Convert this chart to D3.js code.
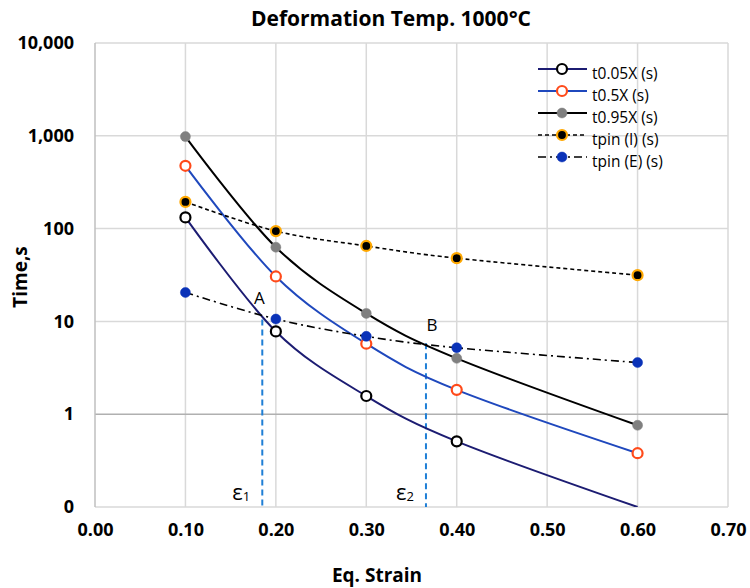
<!DOCTYPE html>
<html>
<head>
<meta charset="utf-8">
<script src="https://cdn.jsdelivr.net/npm/d3@7"></script>
<style>
    body { margin: 0; background: #fff; }
    text { font-family: "Open Sans", "Noto Sans", sans-serif; fill: #000; }
</style>
</head>
<body>
<script>
// strain values
const strain = [0.1, 0.2, 0.3, 0.4, 0.6];

const t005 = [132, 7.8, 1.57, 0.51, 0.1];
const t05 = [475, 30.5, 5.75, 1.83, 0.38];
const t095 = [980, 63, 12.2, 4.0, 0.76];
const tpinI = [194, 94, 65, 48, 31.5];
const tpinE = [20.5, 10.6, 6.9, 5.2, 3.6];

const xTicks = [0, 0.1, 0.2, 0.3, 0.4, 0.5, 0.6, 0.7];
const yTicks = [0.1, 1, 10, 100, 1000, 10000];

// points A / B where tpin(E) crosses t0.05X and t0.95X
const marks = [
    { label: "A", sub: "1", x: 0.185, y: 10.5 },
    { label: "B", sub: "2", x: 0.366, y: 5.8 }
];

const series = [
    { name: "t0.05X (s)", values: t005, line: "#1c1c72", dash: null, fill: "#fff", stroke: "#000" },
    { name: "t0.5X (s)", values: t05, line: "#1f48bd", dash: null, fill: "#fff", stroke: "#ff4a1a" },
    { name: "t0.95X (s)", values: t095, line: "#000", dash: null, fill: "#808080", stroke: "#808080" },
    { name: "tpin (I) (s)", values: tpinI, line: "#000", dash: "4,3", fill: "#000", stroke: "#ffa800" },
    { name: "tpin (E) (s)", values: tpinE, line: "#000", dash: "8,4,2,4", fill: "#0a32b8", stroke: "#0a32b8" }
];

function render() {
    const svg = d3.select("body").append("svg")
        .attr("width", 750)
        .attr("height", 588);

    const x = d3.scaleLinear().domain([0, 0.7]).range([95, 728]);
    const y = d3.scaleLog().domain([0.1, 10000]).range([507, 43]);

    svg.append("defs").append("clipPath")
        .attr("id", "plot")
        .append("rect")
        .attr("x", x(0)).attr("y", y(10000))
        .attr("width", x(0.7) - x(0)).attr("height", y(0.1) - y(10000));

    // grid
    svg.append("g")
        .selectAll("line")
        .data(xTicks.slice(1))
        .enter()
        .append("line")
        .attr("x1", d => x(d)).attr("x2", d => x(d))
        .attr("y1", y(10000)).attr("y2", y(0.1))
        .attr("stroke", "#d9d9d9").attr("stroke-width", 1.5);
    svg.append("g")
        .selectAll("line")
        .data(yTicks)
        .enter()
        .append("line")
        .attr("x1", x(0)).attr("x2", x(0.7))
        .attr("y1", d => y(d)).attr("y2", d => y(d))
        .attr("stroke", d => d === 1 ? "#b0b0b0" : "#d9d9d9")
        .attr("stroke-width", 1.5);
    svg.append("line")
        .attr("x1", x(0)).attr("x2", x(0))
        .attr("y1", y(10000)).attr("y2", y(0.1))
        .attr("stroke", "#bfbfbf").attr("stroke-width", 1.5);

    // axes
    const yAxis = svg.append("g")
        .attr("transform", `translate(${x(0)},0)`)
        .call(d3.axisLeft(y).tickValues(yTicks).tickFormat(d3.format(",.0f")).tickSize(0).tickPadding(21));
    yAxis.select(".domain").remove();
    yAxis.selectAll("text")
        .style("font-size", "18px").style("font-weight", "bold")
        .attr("font-family", null).attr("fill", "#000");

    const xAxis = svg.append("g")
        .attr("transform", `translate(0,${y(0.1)})`)
        .call(d3.axisBottom(x).tickValues(xTicks).tickFormat(d3.format(".2f")).tickSize(0).tickPadding(16));
    xAxis.select(".domain").remove();
    xAxis.selectAll("text")
        .style("font-size", "18px").style("font-weight", "bold")
        .attr("font-family", null).attr("fill", "#000");

    // title + axis titles
    svg.append("text")
        .attr("x", 391).attr("y", 26)
        .attr("text-anchor", "middle")
        .style("font-size", "21px").style("font-weight", "bold")
        .text("Deformation Temp. 1000°C");
    svg.append("text")
        .attr("x", 377).attr("y", 582)
        .attr("text-anchor", "middle")
        .style("font-size", "19px").style("font-weight", "bold")
        .text("Eq. Strain");
    svg.append("text")
        .attr("transform", "translate(27,277) rotate(-90)")
        .attr("text-anchor", "middle")
        .style("font-size", "19px").style("font-weight", "bold")
        .text("Time,s");

    // annotation dashed lines
    const ann = svg.append("g");
    ann.selectAll("line")
        .data(marks)
        .enter()
        .append("line")
        .attr("x1", d => x(d.x)).attr("x2", d => x(d.x))
        .attr("y1", d => y(d.y)).attr("y2", y(0.1))
        .attr("stroke", "#1f7fd6").attr("stroke-width", 2)
        .attr("stroke-dasharray", "6,4");

    // curves
    const line = d3.line()
        .x((d, i) => x(strain[i]))
        .y(d => y(d))
        .curve(d3.curveCardinal.tension(0));

    const plot = svg.append("g").attr("clip-path", "url(#plot)");
    plot.selectAll("path")
        .data(series)
        .enter()
        .append("path")
        .attr("fill", "none")
        .attr("stroke", d => d.line)
        .attr("stroke-width", d => d.dash ? 1.6 : 2)
        .attr("stroke-dasharray", d => d.dash)
        .attr("d", d => line(d.values));

    series.forEach(s => {
        plot.append("g")
            .selectAll("circle")
            .data(s.values.map((v, i) => [strain[i], v]).filter(p => p[1] > 0.1))
            .enter()
            .append("circle")
            .attr("cx", d => x(d[0]))
            .attr("cy", d => y(d[1]))
            .attr("r", 5)
            .attr("fill", s.fill)
            .attr("stroke", s.stroke)
            .attr("stroke-width", s.fill === s.stroke ? 0.5 : 2.2);
    });

    // A, B and epsilon labels
    ann.selectAll("text.pt")
        .data(marks)
        .enter()
        .append("text")
        .attr("class", "pt")
        .attr("x", d => x(d.x) + (d.label === "A" ? -3 : 6))
        .attr("y", d => d.label === "A" ? 304 : 331)
        .attr("text-anchor", "middle")
        .style("font-size", "17px")
        .attr("fill", "#222")
        .text(d => d.label);

    const eps = ann.selectAll("text.eps")
        .data(marks)
        .enter()
        .append("text")
        .attr("class", "eps")
        .attr("x", d => x(d.x) - 30)
        .attr("y", 500)
        .style("font-size", "22px")
        .attr("fill", "#222");
    eps.append("tspan").text("ε");
    eps.append("tspan").attr("dy", 1).style("font-size", "13px").text(d => d.sub);

    // legend
    const legend = svg.append("g")
        .attr("transform", "translate(538,69)")
        .selectAll("g")
        .data(series)
        .enter()
        .append("g")
        .attr("transform", (d, i) => `translate(0,${i * 22})`);
    legend.append("line")
        .attr("x1", 0).attr("x2", 49)
        .attr("stroke", d => d.line)
        .attr("stroke-width", d => d.dash ? 1.6 : 2)
        .attr("stroke-dasharray", d => d.dash);
    legend.append("circle")
        .attr("cx", 24).attr("r", 5)
        .attr("fill", d => d.fill)
        .attr("stroke", d => d.stroke)
        .attr("stroke-width", d => d.fill === d.stroke ? 0.5 : 2.2);
    legend.append("text")
        .attr("x", 54).attr("y", 10)
        .style("font-size", "15.5px")
        .attr("fill", "#222")
        .text(d => d.name);
}

render();
</script>
</body>
</html>
